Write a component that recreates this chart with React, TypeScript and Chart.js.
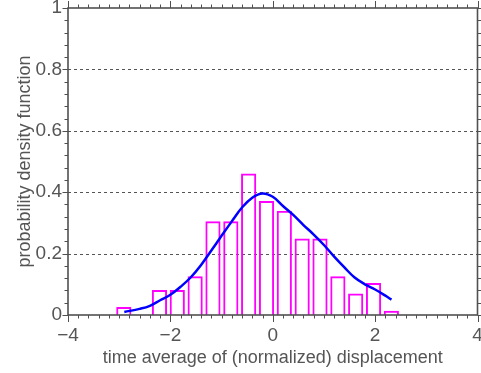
import React, { useEffect, useRef } from 'react';
import { Chart, registerables } from 'chart.js';

Chart.register(...registerables);

// Histogram bins (centres) and their densities
const binCenters = [-2.91, -2.213, -1.865, -1.516, -1.168, -0.819, -0.471, -0.122, 0.226, 0.575, 0.923, 1.272, 1.62, 1.969, 2.317];
const binHeights = [0.025, 0.08, 0.08, 0.125, 0.304, 0.304, 0.46, 0.37, 0.338, 0.248, 0.248, 0.125, 0.069, 0.103, 0.013];

// Smoothed density estimate
const kdeX = [-2.9, -2.6, -2.4, -2.2, -2.0, -1.8, -1.6, -1.4, -1.2, -1.0, -0.8, -0.6, -0.4, -0.2, 0.0, 0.2, 0.4, 0.6, 0.8, 1.0, 1.2, 1.4, 1.6, 1.8, 2.0, 2.2, 2.32];
const kdeY = [0.01, 0.02, 0.03, 0.048, 0.066, 0.092, 0.123, 0.163, 0.21, 0.258, 0.305, 0.35, 0.382, 0.396, 0.385, 0.355, 0.326, 0.293, 0.262, 0.228, 0.19, 0.155, 0.122, 0.1, 0.083, 0.063, 0.05];

const xTicks = [-4, -2, 0, 2, 4];
const yTicks = [0, 0.2, 0.4, 0.6, 0.8, 1];
const gridLevels = [0.2, 0.4, 0.6, 0.8];
const xTitle = 'time average of (normalized) displacement';
const yTitle = 'probability density function';

const FONT = "'Liberation Sans', Arial, Helvetica, sans-serif";
const TEXT = '#555555';
const AXIS = '#505050';

const framePlugin = {
  id: 'frameTicks',
  beforeDatasetsDraw(chart: any) {
    const { ctx, chartArea: a, scales } = chart;
    const y = scales.y;
    ctx.save();
    ctx.strokeStyle = '#555555';
    ctx.lineWidth = 1;
    ctx.setLineDash([3, 3]);
    for (const v of gridLevels) {
      const py = Math.round(y.getPixelForValue(v)) + 0.5;
      ctx.beginPath();
      ctx.moveTo(a.left, py);
      ctx.lineTo(a.right, py);
      ctx.stroke();
    }
    ctx.restore();
  },
  afterDatasetsDraw(chart: any) {
    const { ctx, chartArea: a, scales } = chart;
    const x = scales.x;
    const y = scales.y;
    ctx.save();
    ctx.strokeStyle = AXIS;
    ctx.lineWidth = 1;
    ctx.setLineDash([]);
    ctx.beginPath();
    for (let i = -20; i <= 20; i++) {
      const v = i * 0.2;
      const px = Math.round(x.getPixelForValue(v)) + 0.5;
      const len = i % 10 === 0 ? 7 : 3.5;
      ctx.moveTo(px, a.bottom);
      ctx.lineTo(px, a.bottom + len);
      ctx.moveTo(px, a.top);
      ctx.lineTo(px, a.top - len);
    }
    for (let i = 0; i <= 25; i++) {
      const v = i * 0.04;
      const py = Math.round(y.getPixelForValue(v)) + 0.5;
      const len = i % 5 === 0 ? 5.5 : 3.5;
      ctx.moveTo(a.left, py);
      ctx.lineTo(a.left - len, py);
      ctx.moveTo(a.right, py);
      ctx.lineTo(a.right + len, py);
    }
    ctx.stroke();
    ctx.lineWidth = 1.6;
    ctx.strokeRect(a.left, a.top, a.right - a.left, a.bottom - a.top);
    ctx.restore();
  },
};

export default function App() {
  const ref = useRef<HTMLCanvasElement | null>(null);

  useEffect(() => {
    if (!ref.current) return;
    const chart = new Chart(ref.current, {
      type: 'bar',
      data: {
        datasets: [
          {
            type: 'line',
            data: kdeX.map((v, i) => ({ x: v, y: kdeY[i] })),
            borderColor: '#0000ff',
            borderWidth: 2.5,
            pointRadius: 0,
            tension: 0.4,
            fill: false,
            order: 0,
          } as any,
          {
            type: 'bar',
            data: binCenters.map((v, i) => ({ x: v, y: binHeights[i] })),
            backgroundColor: 'rgba(0,0,0,0)',
            borderColor: '#ff00ff',
            borderWidth: 1.3,
            barThickness: 14.5,
            order: 1,
          } as any,
        ],
      },
      options: {
        animation: false,
        responsive: false,
        devicePixelRatio: 1,
        layout: { padding: { top: 8, right: 3.5, left: 0, bottom: 0 } },
        plugins: { legend: { display: false }, tooltip: { enabled: false } },
        scales: {
          x: {
            type: 'linear',
            min: -4,
            max: 4,
            offset: false,
            grid: { display: false, drawTicks: false, offset: false },
            border: { display: false },
            afterBuildTicks: (s: any) => {
              s.ticks = xTicks.map((v) => ({ value: v }));
            },
            afterFit: (s: any) => {
              s.height = 58;
              s.paddingLeft = 0;
              s.paddingRight = 0;
            },
            ticks: {
              autoSkip: false,
              maxRotation: 0,
              padding: 9,
              color: TEXT,
              font: { family: FONT, size: 19 },
              callback: (v: any) => String(v).replace('-', '\u2212'),
            },
            title: {
              display: true,
              text: xTitle,
              color: TEXT,
              font: { family: FONT, size: 18 },
              padding: { top: 0, bottom: 4 },
            },
          },
          y: {
            type: 'linear',
            min: 0,
            max: 1,
            grid: { display: false, drawTicks: false },
            border: { display: false },
            afterBuildTicks: (s: any) => {
              s.ticks = yTicks.map((v) => ({ value: v }));
            },
            afterFit: (s: any) => {
              s.width = 68;
              s.paddingTop = 0;
              s.paddingBottom = 0;
            },
            ticks: {
              autoSkip: false,
              padding: 6,
              color: TEXT,
              font: { family: FONT, size: 19 },
              callback: (v: any) => String(Math.round(Number(v) * 10) / 10),
            },
            title: {
              display: true,
              text: yTitle,
              color: TEXT,
              font: { family: FONT, size: 18 },
              padding: { top: 14, bottom: 0 },
            },
          },
        },
      } as any,
      plugins: [framePlugin],
    });
    return () => chart.destroy();
  }, []);

  return (
    <div style={{ position: 'absolute', left: 0, top: 0, width: 481, height: 373 }}>
      <canvas ref={ref} width={481} height={373} style={{ display: 'block', width: 481, height: 373 }} />
    </div>
  );
}
